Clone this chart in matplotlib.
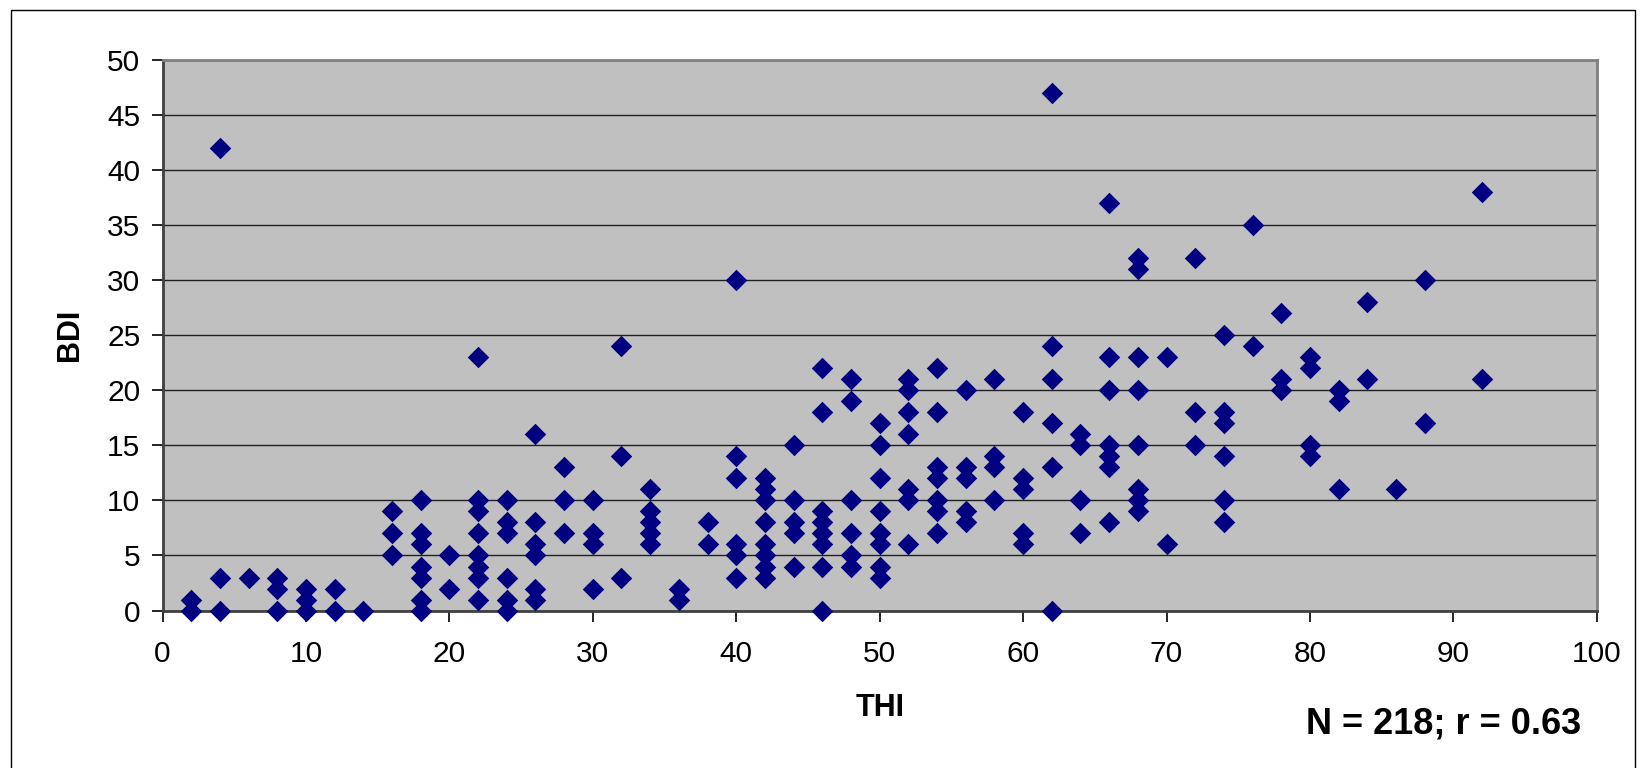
import matplotlib.pyplot as plt
from matplotlib.patches import Rectangle

plt.rcParams['font.family'] = ['Liberation Sans', 'DejaVu Sans']

# THI score -> list of BDI scores
thi_levels = [2, 4, 6, 8, 10, 12, 14, 16, 18, 20, 22, 24, 26, 28, 30, 32, 34, 36, 38, 40,
              42, 44, 46, 48, 50, 52, 54, 56, 58, 60, 62, 64, 66, 68, 70, 72, 74, 76, 78,
              80, 82, 84, 86, 88, 92]
bdi_groups = [
    [1, 0], [42, 3, 0], [3], [3, 2, 0], [2, 1, 0], [2, 0], [0], [9, 7, 5],
    [10, 7, 6, 4, 3, 1, 0], [5, 2], [23, 10, 9, 7, 5, 4, 3, 1], [10, 8, 7, 3, 1, 0],
    [16, 8, 6, 5, 2, 1], [13, 10, 7], [10, 7, 6, 2], [24, 14, 3], [11, 9, 8, 7, 6],
    [2, 1], [8, 6], [30, 14, 12, 6, 5, 3], [12, 11, 10, 8, 6, 5, 4, 3],
    [15, 10, 8, 7, 4], [22, 18, 9, 8, 7, 6, 4, 0], [21, 19, 10, 7, 5, 4],
    [17, 15, 12, 9, 7, 6, 4, 3], [21, 20, 18, 16, 11, 10, 6], [22, 18, 13, 12, 10, 9, 7],
    [20, 13, 12, 9, 8], [21, 14, 13, 10], [18, 12, 11, 7, 6], [47, 24, 21, 17, 13, 0],
    [16, 15, 10, 7], [37, 23, 20, 15, 14, 13, 8], [32, 31, 23, 20, 15, 11, 10, 9],
    [23, 6], [32, 18, 15], [25, 18, 17, 14, 10, 8], [35, 24], [27, 21, 20],
    [23, 22, 15, 14], [20, 19, 11], [28, 21], [11], [30, 17], [38, 21],
]
thi = [x for x, ys in zip(thi_levels, bdi_groups) for _ in ys]
bdi = [y for ys in bdi_groups for y in ys]

x_ticks = list(range(0, 101, 10))
y_ticks = list(range(0, 51, 5))

fig = plt.figure(figsize=(16.45, 7.68), dpi=100)
ax = fig.add_axes([0.0988, 0.205, 0.9707 - 0.0988, 0.922 - 0.205])
ax.set_facecolor('#C0C0C0')

# outer chart frame
fig.patches.append(Rectangle((10.5 / 1645, -0.1), (1635 - 10.5) / 1645, 1.1 - 10.5 / 768,
                             transform=fig.transFigure, fill=False, edgecolor='black', lw=1.0))

ax.scatter(thi, bdi, marker='D', s=120, color='#000080', zorder=3, clip_on=False, linewidths=0)

ax.set_xlim(0, 100)
ax.set_ylim(0, 50)
ax.set_xticks(x_ticks)
ax.set_yticks(y_ticks)
ax.yaxis.grid(True, color='#202020', lw=1.0)
ax.set_axisbelow(True)

for side in ['top', 'right']:
    ax.spines[side].set_color('#808080')
    ax.spines[side].set_linewidth(2)
for side in ['left', 'bottom']:
    ax.spines[side].set_color('#404040')
    ax.spines[side].set_linewidth(2)

ax.tick_params(axis='both', direction='out', length=8, width=1.2, colors='black', labelsize=21.5)
ax.tick_params(axis='x', pad=13)
ax.tick_params(axis='y', pad=8)

ax.set_xlabel('THI', fontsize=22, fontweight='bold', labelpad=18)
ax.set_ylabel('BDI', fontsize=22, fontweight='bold', labelpad=16)

fig.text(1444 / 1645, 1 - 724 / 768, 'N = 218; r = 0.63', fontsize=26, fontweight='bold',
         ha='center', va='center')

fig.savefig('out.png', dpi=100)
